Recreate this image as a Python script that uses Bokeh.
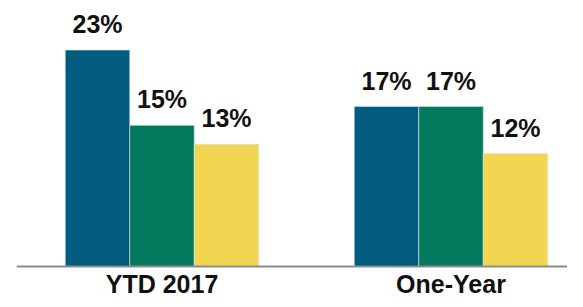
from bokeh.plotting import figure
from bokeh.models import Range1d, Span, ColumnDataSource
from bokeh.core.properties import value
from bokeh.embed import file_html
from bokeh.resources import INLINE

categories = ["YTD 2017", "One-Year"]
series_a = [23, 17]
series_b = [15, 17]
series_c = [13, 12]
colors = ["#005B7F", "#03795D", "#F2D550"]

bar_w = 0.2232
offsets = [-bar_w, 0.0, bar_w]

p = figure(width=567, height=299, output_backend="svg", toolbar_location=None,
           x_range=Range1d(-0.5035, 1.4031), y_range=Range1d(-3.507, 28.268),
           min_border_left=16, min_border_right=0, min_border_top=0, min_border_bottom=0)
p.axis.visible = False
p.grid.visible = False
p.outline_line_color = None
p.background_fill_color = "white"

for series, off, col in zip([series_a, series_b, series_c], offsets, colors):
    xs = [i + off for i in range(len(categories))]
    src = ColumnDataSource(dict(x=xs, top=series, lab=[f"{v}%" for v in series]))
    p.vbar(x="x", top="top", bottom=0, width=bar_w, source=src,
           fill_color=col, line_color="#d8e4e8", line_width=0.6)
    p.text(x="x", y="top", text="lab", source=src, text_align="center",
           text_baseline="alphabetic", y_offset=-26,
           text_font=value("Liberation Sans"), text_font_style="bold",
           text_font_size="25px", text_color="#111111")

p.add_layout(Span(location=0, dimension="width", line_color="#8c8c8c", line_width=2))

csrc = ColumnDataSource(dict(x=list(range(len(categories))), y=[0] * len(categories), lab=categories))
p.text(x="x", y="y", text="lab", source=csrc, text_align="center",
       text_baseline="alphabetic", y_offset=18,
       text_font=value("Liberation Sans"), text_font_style="bold",
       text_font_size="25px", text_color="#111111")

open("out.html", "w").write(file_html(p, INLINE))
